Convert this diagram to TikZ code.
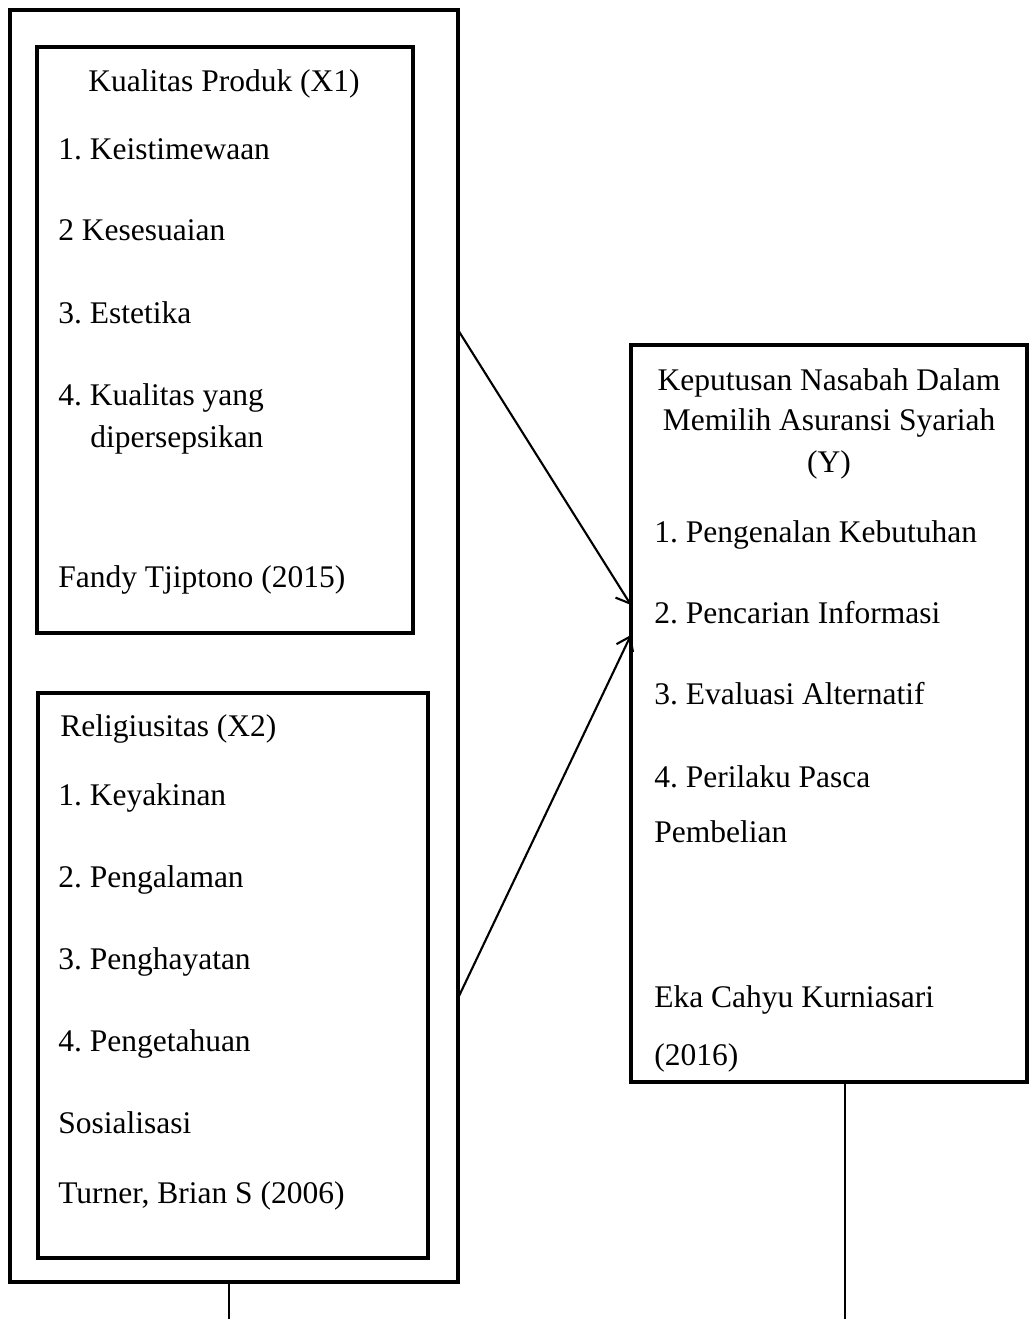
\documentclass[tikz,border=0pt]{standalone}
\usepackage{fontspec}
\setmainfont{Liberation Serif}
\usepackage{tikz}
\usetikzlibrary{arrows.meta, positioning}
\frenchspacing

\begin{document}
\begin{tikzpicture}[
        x=0.025cm, y=-0.025cm,
        box/.style={rectangle, draw, line width=2.8pt, inner sep=0pt, outer sep=0pt},
        txt/.style={anchor=base west, inner sep=0pt, font=\fontsize{22.4}{28}\selectfont},
        title/.style={anchor=base, inner sep=0pt, font=\fontsize{22.4}{28}\selectfont},
        arrow/.style={-{Straight Barb[length=9pt, width=13pt, line width=1.5pt]}, line width=1.5pt},
        link/.style={line width=1.4pt}
    ]
    \useasboundingbox (0,0) rectangle (1034,1319);

    % Boxes
    \node[box, minimum width=11.2cm, minimum height=31.8cm] (outer) at (234,646) {};
    \node[box, minimum width=9.4cm, minimum height=14.65cm] (produk) at (225,340) {};
    \node[box, minimum width=9.75cm, minimum height=14.125cm] (religi) at (233,975.5) {};
    \node[box, minimum width=9.9cm, minimum height=18.425cm] (keputusan) at (829,713.5) {};

    % Kualitas Produk
    \node[title] (x1) at (224,92) {Kualitas Produk (X1)};
    \node[txt] (x1a) at (58,160) {1. Keistimewaan};
    \node[txt] (x1b) at (58,241) {2 Kesesuaian};
    \node[txt] (x1c) at (58,323) {3. Estetika};
    \node[txt] (x1d) at (58,405) {4. Kualitas yang};
    \node[txt] (x1e) at (90,447) {dipersepsikan};
    \node[txt] (x1src) at (58,587) {Fandy Tjiptono (2015)};

    % Religiusitas
    \node[txt] (x2) at (60,736) {Religiusitas (X2)};
    \node[txt] (x2a) at (58,805) {1. Keyakinan};
    \node[txt] (x2b) at (58,887) {2. Pengalaman};
    \node[txt] (x2c) at (58,969) {3. Penghayatan};
    \node[txt] (x2d) at (58,1051) {4. Pengetahuan};
    \node[txt] (x2e) at (58,1133) {Sosialisasi};
    \node[txt] (x2src) at (58,1203) {Turner, Brian S (2006)};

    % Keputusan Nasabah
    \node[title] (y1) at (829,390) {Keputusan Nasabah Dalam};
    \node[title] (y2) at (829,430) {Memilih Asuransi Syariah};
    \node[title] (y3) at (829,472) {(Y)};
    \node[txt] (ya) at (654,542) {1. Pengenalan Kebutuhan};
    \node[txt] (yb) at (654,623) {2. Pencarian Informasi};
    \node[txt] (yc) at (654,704) {3. Evaluasi Alternatif};
    \node[txt] (yd) at (654,787) {4. Perilaku Pasca};
    \node[txt] (ye) at (654,842) {Pembelian};
    \node[txt] (ysrc1) at (654,1007) {Eka Cahyu Kurniasari};
    \node[txt] (ysrc2) at (654,1065) {(2016)};

    % Arrows
    \coordinate (s1) at (outer.east |- 0,330);
    \coordinate (s2) at (outer.east |- 0,998);
    \coordinate (t1) at (keputusan.west |- 0,605);
    \coordinate (t2) at (keputusan.west |- 0,635);
    \draw[arrow] (s1) -- (t1);
    \draw[arrow] (s2) -- (t2);

    % Lines
    \coordinate (xbot) at (229,1282);
    \coordinate (ybot) at (845,1082);
    \coordinate (xend) at (229,1319);
    \coordinate (yend) at (845,1319);
    \draw[link] (xbot) -- (xend);
    \draw[link] (ybot) -- (yend);
\end{tikzpicture}
\end{document}
